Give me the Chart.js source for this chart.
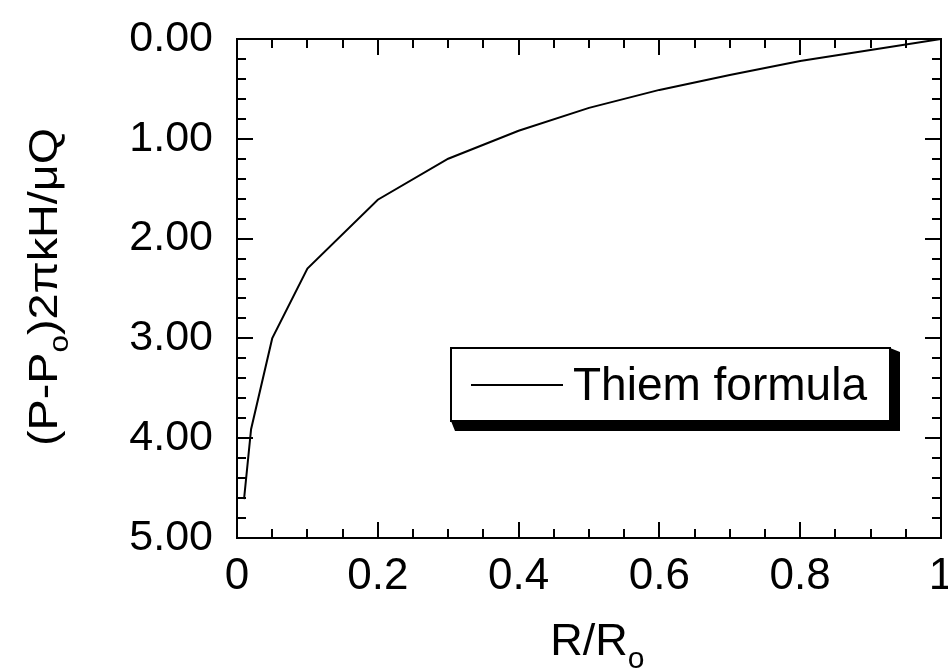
<!DOCTYPE html>
<html>
<head>
<meta charset="utf-8">
<script src="https://cdn.jsdelivr.net/npm/chart.js@4.4.0/dist/chart.umd.min.js"></script>
<style>
  html, body { margin: 0; padding: 0; background: #fff; }
  #wrap { width: 948px; height: 672px; }
</style>
</head>
<body>
<div id="wrap"><canvas id="c" width="948" height="672"></canvas></div>
<script>
// ---- data ----
const radiusRatio = [0.01, 0.02, 0.05, 0.1, 0.2, 0.3, 0.4, 0.5, 0.6, 0.7, 0.8, 0.9, 1.0];
const pressureDrop = [4.61, 3.91, 3.00, 2.30, 1.61, 1.20, 0.92, 0.69, 0.51, 0.36, 0.22, 0.11, 0.00];
const xTickValues = [0, 0.2, 0.4, 0.6, 0.8, 1];
const yTickValues = [0, 1, 2, 3, 4, 5];
const seriesLabel = 'Thiem formula';
const xTitleParts = [{ t: 'R/R' }, { t: 'o', sub: true }];
const yTitleParts = [{ t: '(P-P' }, { t: 'o', sub: true }, { t: ')2\u03C0kH/\u03BCQ' }];

const FAMILY = '"Liberation Sans", Arial, Helvetica, sans-serif';

const points = radiusRatio.map((r, i) => ({ x: r, y: pressureDrop[i] }));

function drawParts(ctx, parts, size, subSize, subShift) {
  // returns nothing; draws starting at x=0 baseline y=0
  let x = 0;
  for (const p of parts) {
    ctx.font = (p.sub ? subSize : size) + 'px ' + FAMILY;
    ctx.fillText(p.t, x, p.sub ? subShift : 0);
    x += ctx.measureText(p.t).width;
  }
}
function partsWidth(ctx, parts, size, subSize) {
  let w = 0;
  for (const p of parts) {
    ctx.font = (p.sub ? subSize : size) + 'px ' + FAMILY;
    w += ctx.measureText(p.t).width;
  }
  return w;
}

const bgPlugin = {
  id: 'bg',
  beforeDraw(chart) {
    const ctx = chart.ctx;
    ctx.save();
    ctx.fillStyle = '#fff';
    ctx.fillRect(0, 0, chart.width, chart.height);
    ctx.restore();
  }
};

const framePlugin = {
  id: 'frame',
  afterDraw(chart) {
    const { ctx, chartArea: { left, right, top, bottom }, scales: { x, y } } = chart;
    ctx.save();
    ctx.strokeStyle = '#000';
    ctx.lineWidth = 2;
    ctx.strokeRect(left, top, right - left, bottom - top);
    ctx.beginPath();
    const xMinorStep = 0.05, yMinorStep = 0.2;
    for (let i = 0; i <= 20; i++) {
      const px = Math.round(x.getPixelForValue(i * xMinorStep));
      const len = (i % 4 === 0) ? 16 : 9;
      ctx.moveTo(px, bottom); ctx.lineTo(px, bottom - len);
      ctx.moveTo(px, top); ctx.lineTo(px, top + len);
    }
    for (let i = 0; i <= 25; i++) {
      const py = Math.round(y.getPixelForValue(i * yMinorStep));
      const len = (i % 5 === 0) ? 16 : 9;
      ctx.moveTo(left, py); ctx.lineTo(left + len, py);
      ctx.moveTo(right, py); ctx.lineTo(right - len, py);
    }
    ctx.stroke();

    // axis titles
    ctx.fillStyle = '#000';
    ctx.textBaseline = 'alphabetic';
    ctx.textAlign = 'left';
    // x title: main text centred on the plot, subscript appended
    ctx.font = '45px ' + FAMILY;
    const mainW = ctx.measureText(xTitleParts[0].t).width;
    const cx = (left + right) / 2;
    ctx.save();
    ctx.translate(cx - mainW / 2, 655);
    drawParts(ctx, xTitleParts, 45, 30, 13);
    ctx.restore();

    // y title rotated
    const ySize = 40, ySub = 27;
    const yw = partsWidth(ctx, yTitleParts, ySize, ySub);
    const targetLen = 318;
    const sx = targetLen / yw;
    ctx.save();
    ctx.translate(57, 287);
    ctx.rotate(-Math.PI / 2);
    ctx.scale(sx, 1);
    ctx.translate(-yw / 2, 0);
    drawParts(ctx, yTitleParts, ySize, ySub, 11);
    ctx.restore();

    ctx.restore();
  }
};

const legendPlugin = {
  id: 'boxLegend',
  afterDraw(chart) {
    const ctx = chart.ctx;
    const ds = chart.data.datasets[0];
    const bx = 451, by = 348, bw = 439, bh = 73, d = 10;
    ctx.save();
    // shadow (extruded look)
    ctx.fillStyle = '#000';
    ctx.beginPath();
    ctx.moveTo(bx, by + bh);
    ctx.lineTo(bx + 4, by + bh + d);
    ctx.lineTo(bx + bw + d, by + bh + d);
    ctx.lineTo(bx + bw + d, by + 4);
    ctx.lineTo(bx + bw, by);
    ctx.closePath();
    ctx.fill();
    // box
    ctx.fillStyle = '#fff';
    ctx.fillRect(bx, by, bw, bh);
    ctx.strokeStyle = '#000';
    ctx.lineWidth = 2;
    ctx.strokeRect(bx, by, bw, bh);
    // sample line
    ctx.strokeStyle = ds.borderColor;
    ctx.lineWidth = 2;
    ctx.beginPath();
    ctx.moveTo(471, 385);
    ctx.lineTo(563, 385);
    ctx.stroke();
    // label
    ctx.fillStyle = '#000';
    ctx.font = '46px ' + FAMILY;
    ctx.textBaseline = 'alphabetic';
    ctx.textAlign = 'left';
    ctx.fillText(ds.label, 573, 400);
    ctx.restore();
  }
};

new Chart(document.getElementById('c'), {
  type: 'line',
  data: {
    datasets: [{
      label: seriesLabel,
      data: points,
      borderColor: '#000',
      backgroundColor: '#000',
      borderWidth: 2,
      pointRadius: 0,
      tension: 0,
      fill: false
    }]
  },
  options: {
    responsive: false,
    animation: false,
    devicePixelRatio: 1,
    layout: { padding: { top: 39, right: 7, left: 0, bottom: 0 } },
    plugins: { legend: { display: false }, tooltip: { enabled: false } },
    scales: {
      x: {
        type: 'linear',
        min: 0, max: 1,
        grid: { display: false, drawTicks: false },
        border: { display: false },
        afterBuildTicks(s) { s.ticks = xTickValues.map(v => ({ value: v })); },
        ticks: {
          autoSkip: false, maxRotation: 0, padding: 12, color: '#000',
          font: { size: 44, family: FAMILY },
          callback: v => String(Math.round(v * 10) / 10)
        },
        afterFit(s) { s.height = 134; s.paddingLeft = 0; s.paddingRight = 0; }
      },
      y: {
        type: 'linear',
        reverse: true,
        min: 0, max: 5,
        grid: { display: false, drawTicks: false },
        border: { display: false },
        afterBuildTicks(s) { s.ticks = yTickValues.map(v => ({ value: v })); },
        ticks: {
          autoSkip: false, padding: 24, color: '#000',
          font: { size: 43, family: FAMILY },
          callback: v => Number(v).toFixed(2)
        },
        afterFit(s) { s.width = 237; s.paddingTop = 0; s.paddingBottom = 0; }
      }
    }
  },
  plugins: [bgPlugin, framePlugin, legendPlugin]
});
</script>
</body>
</html>
